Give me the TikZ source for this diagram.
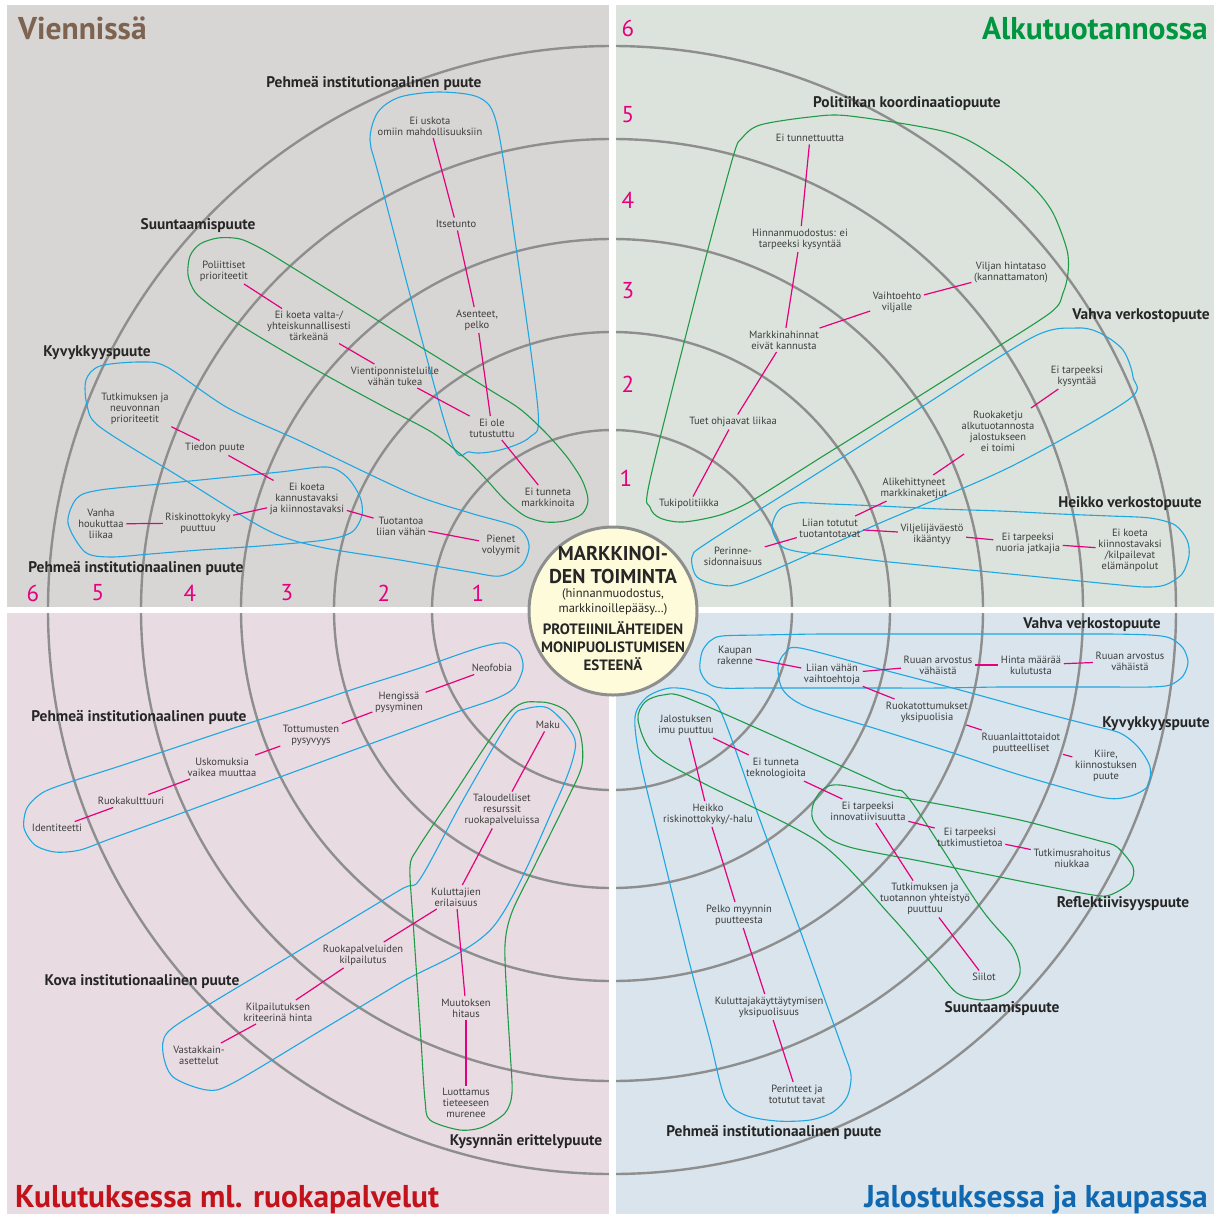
\documentclass[tikz,border=0pt]{standalone}
\usepackage{fontspec}
\setmainfont{PT Sans}
\usepackage{xcolor}
\usetikzlibrary{positioning}

\definecolor{pinkline}{HTML}{E5007E}
\definecolor{loopblue}{HTML}{1EA7E1}
\definecolor{loopgreen}{HTML}{1F9B48}
\definecolor{ringgray}{HTML}{8E8E8E}
\definecolor{quadTL}{HTML}{D8D6D5}
\definecolor{quadTR}{HTML}{DCE3DC}
\definecolor{quadBL}{HTML}{E8DCE2}
\definecolor{quadBR}{HTML}{D9E4EC}
\definecolor{centerfill}{HTML}{FEFBDA}
\definecolor{labeltext}{HTML}{3D3D3D}
\definecolor{headtext}{HTML}{262626}
\definecolor{ttlbrown}{HTML}{7D6350}
\definecolor{ttlgreen}{HTML}{009640}
\definecolor{ttlred}{HTML}{C4121A}
\definecolor{ttlblue}{HTML}{0F68B0}

\begin{document}
\begin{tikzpicture}[x=1pt,y=-1pt,
    lbl/.style={font=\fontsize{10.5}{11}\selectfont, text=labeltext, align=center, inner sep=2.5pt},
    hd/.style={font=\bfseries\fontsize{15.4}{17}\selectfont, text=headtext, inner sep=1pt},
    num/.style={font=\fontsize{23}{24}\selectfont, text=pinkline, inner sep=0pt},
    ttl/.style={font=\bfseries\fontsize{31.5}{33}\selectfont, inner sep=0pt},
    link/.style={draw=pinkline, line width=1.2pt},
    ring/.style={draw=ringgray, line width=2.4pt},
    bloop/.style={draw=loopblue, line width=1.1pt},
    gloop/.style={draw=loopgreen, line width=1.1pt}]

    \useasboundingbox (0,0) rectangle (1217,1216);

    % quadrants
    \fill[quadTL] (7,5) rectangle (609,607);
    \fill[quadTR] (616,5) rectangle (1214,607);
    \fill[quadBL] (7,613) rectangle (609,1214);
    \fill[quadBR] (616,613) rectangle (1214,1214);

    % rings
    \coordinate (o) at (612,610);
    \draw[ring] (o) circle[radius=180pt];
    \draw[ring] (o) circle[radius=278pt];
    \draw[ring] (o) circle[radius=371pt];
    \draw[ring] (o) circle[radius=471pt];
    \draw[ring] (o) circle[radius=564pt];
    \fill[white] (609,0) rectangle (616,1216);
    \fill[white] (0,607) rectangle (1217,613);

    % ring numbers
    \node[num] (n6a) at (33,593) {6};
    \node[num] (n5a) at (98,593) {5};
    \node[num] (n4a) at (190,593) {4};
    \node[num] (n3a) at (287,593) {3};
    \node[num] (n2a) at (384,593) {2};
    \node[num] (n1a) at (478,593) {1};
    \node[num] (n6b) at (628,28) {6};
    \node[num] (n5b) at (628,115) {5};
    \node[num] (n4b) at (628,200) {4};
    \node[num] (n3b) at (628,291) {3};
    \node[num] (n2b) at (628,384) {2};
    \node[num] (n1b) at (626,478) {1};

    % titles
    \node[ttl, text=ttlbrown, anchor=base west] (tViennissa) at (18,39) {Viennissä};
    \node[ttl, text=ttlgreen, anchor=base east] (tAlku) at (1208,39) {Alkutuotannossa};
    \node[ttl, text=ttlred, anchor=base west] (tKulutus) at (15,1207) {Kulutuksessa ml. ruokapalvelut};
    \node[ttl, text=ttlblue, anchor=base east] (tJalostus) at (1208,1207) {Jalostuksessa ja kaupassa};

    % loops, top left
    \draw[bloop] plot[smooth cycle, tension=0.5] coordinates {(370,140) (378,112) (400,97) (440,92) (480,98) (497,125) (515,240) (538,410) (530,437) (500,450) (470,452) (448,433) (380,180)};
    \draw[gloop] plot[smooth cycle, tension=0.5] coordinates {(188,275) (190,256) (200,244) (218,238) (240,239) (262,249) (290,266) (340,297) (390,328) (440,359) (490,390) (520,409) (545,432) (567,457) (582,480) (588,500) (582,514) (565,521) (545,522) (525,516) (505,500) (485,478) (465,458) (433,433) (390,410) (340,383) (290,355) (240,325) (210,305) (195,292)};
    \draw[bloop] plot[smooth cycle, tension=0.5] coordinates {(86,380) (100,366) (140,362) (167,367) (228,408) (300,441) (410,493) (470,513) (517,527) (529,545) (522,565) (500,576) (470,572) (400,560) (320,547) (267,530) (180,477) (100,427) (87,405)};
    \draw[bloop] plot[smooth cycle, tension=0.5] coordinates {(68,523) (77,498) (100,490) (160,484) (220,478) (280,472) (327,467) (347,477) (360,497) (362,515) (352,532) (325,540) (260,546) (200,550) (150,554) (110,557) (85,552)};

    % loops, top right
    \draw[gloop] plot[smooth cycle, tension=0.5] coordinates {(650,480) (700,280) (733,157) (742,138) (760,125) (810,117) (850,116) (950,133) (1000,160) (1033,187) (1053,213) (1067,250) (1068,273) (1063,293) (1050,313) (970,364) (897,410) (820,458) (753,500) (720,515) (683,522) (660,518) (650,507)};
    \draw[bloop] plot[smooth cycle, tension=0.5] coordinates {(692,557) (707,543) (810,478) (917,410) (1033,337) (1077,328) (1100,333) (1123,350) (1133,377) (1128,400) (1010,467) (880,523) (750,580) (720,585) (697,577)};
    \draw[bloop] plot[smooth cycle, tension=0.5] coordinates {(797,503) (830,504) (880,506) (940,509) (1000,511) (1060,514) (1110,516) (1150,518) (1175,525) (1187,540) (1189,556) (1182,574) (1165,585) (1145,587) (1110,584) (1060,579) (1000,573) (940,567) (880,561) (830,555) (800,552) (781,546) (772,528) (779,510)};

    % loops, bottom left
    \draw[bloop] plot[smooth cycle, tension=0.5] coordinates {(67,783) (120,766) (180,746) (240,726) (300,707) (360,687) (420,668) (460,654) (485,646) (505,643) (519,652) (523,668) (514,688) (495,699) (460,711) (400,733) (340,755) (280,777) (220,799) (160,821) (110,839) (80,850) (55,852) (35,845) (24,828) (27,808) (42,793)};
    \draw[bloop] plot[smooth cycle, tension=0.5] coordinates {(163,1053) (167,1033) (200,1010) (300,950) (400,890) (420,879) (463,800) (510,720) (525,709) (548,708) (570,730) (575,750) (557,800) (493,927) (400,983) (320,1031) (233,1083) (207,1090) (173,1077)};
    \draw[gloop] plot[smooth cycle, tension=0.5] coordinates {(410,867) (418,848) (450,800) (510,712) (540,702) (565,710) (580,733) (582,765) (567,800) (535,865) (512,912) (505,945) (507,1000) (510,1050) (512,1093) (505,1113) (483,1127) (460,1130) (430,1120) (425,1100) (421,1040) (417,980) (413,920)};

    % loops, bottom right
    \draw[bloop] plot[smooth cycle, tension=0.5] coordinates {(722,636) (760,635) (820,634) (880,634) (940,634) (1000,634) (1060,634) (1110,634) (1150,635) (1170,638) (1183,648) (1188,662) (1183,676) (1170,685) (1150,687) (1110,687) (1060,687) (1000,687) (940,688) (880,688) (820,688) (760,688) (722,688) (708,683) (700,670) (702,652) (710,641)};
    \draw[bloop] plot[smooth cycle, tension=0.5] coordinates {(778,667) (785,653) (800,648) (880,669) (960,690) (1040,712) (1090,725) (1120,733) (1138,747) (1150,767) (1147,787) (1127,797) (1100,797) (1020,775) (950,752) (880,730) (807,707) (783,690)};
    \draw[bloop] plot[smooth cycle, tension=0.5] coordinates {(635,717) (647,697) (670,688) (697,692) (720,710) (760,820) (800,930) (825,1000) (843,1050) (851,1075) (847,1097) (833,1112) (810,1120) (777,1121) (745,1115) (725,1098) (710,1040) (690,965) (660,843) (640,760)};
    \draw[gloop] plot[smooth cycle, tension=0.5] coordinates {(638,720) (645,702) (663,695) (687,698) (790,743) (887,787) (910,800) (980,907) (1013,947) (1020,973) (1007,993) (983,1000) (957,993) (933,965) (890,915) (820,843) (703,783) (653,753)};
    \draw[gloop] plot[smooth cycle, tension=0.5] coordinates {(813,805) (822,790) (840,785) (900,797) (960,808) (1020,820) (1070,833) (1100,841) (1117,847) (1133,867) (1130,883) (1110,895) (1093,895) (1040,885) (980,873) (920,861) (853,848) (827,837) (813,820)};

    % headings
    \node[hd] (tlPehmeaA) at (374,83) {Pehmeä institutionaalinen puute};
    \node[hd] (tlSuunt) at (198,226) {Suuntaamispuute};
    \node[hd] (tlKyvyk) at (97,353) {Kyvykkyyspuute};
    \node[hd] (tlPehmeaB) at (136,568) {Pehmeä institutionaalinen puute};
    \node[hd] (trPolit) at (907,104) {Politiikan koordinaatiopuute};
    \node[hd] (trVahva) at (1141,316) {Vahva verkostopuute};
    \node[hd] (trHeikko) at (1130,504) {Heikko verkostopuute};
    \node[hd] (blPehmea) at (139,717) {Pehmeä institutionaalinen puute};
    \node[hd] (blKova) at (142,982) {Kova institutionaalinen puute};
    \node[hd] (blKysynta) at (526,1142) {Kysynnän erittelypuute};
    \node[hd] (brVahva) at (1092,625) {Vahva verkostopuute};
    \node[hd] (brKyvyk) at (1156,724) {Kyvykkyyspuute};
    \node[hd] (brReflekt) at (1123,904) {Reflektiivisyyspuute};
    \node[hd] (brSuunt) at (1002,1009) {Suuntaamispuute};
    \node[hd] (brPehmea) at (774,1132) {Pehmeä institutionaalinen puute};

    % labels, top left
    \node[lbl] (uskota) at (430,126) {Ei uskota\\omiin mahdollisuuksiin};
    \node[lbl] (itsetunto) at (456,224) {Itsetunto};
    \node[lbl] (asenteet) at (477,320) {Asenteet,\\pelko};
    \node[lbl] (eiole) at (492,428) {Ei ole\\tutustuttu};
    \node[lbl] (eitunnetaM) at (548,497) {Ei tunneta\\markkinoita};
    \node[lbl] (poliittiset) at (224,271) {Poliittiset\\prioriteetit};
    \node[lbl] (valta) at (309,326) {Ei koeta valta-/\\yhteiskunnallisesti\\tärkeänä};
    \node[lbl] (vienti) at (395,376) {Vientiponnisteluille\\vähän tukea};
    \node[lbl] (tutkneuv) at (135,409) {Tutkimuksen ja\\neuvonnan\\prioriteetit};
    \node[lbl] (tiedon) at (215,448) {Tiedon puute};
    \node[lbl] (kannust) at (307,499) {Ei koeta\\kannustavaksi\\ja kiinnostavaksi};
    \node[lbl] (tuotantoa) at (401,526) {Tuotantoa\\liian vähän};
    \node[lbl] (pienet) at (501,545) {Pienet\\volyymit};
    \node[lbl] (vanha) at (101,524) {Vanha\\houkuttaa\\liikaa};
    \node[lbl] (riskiTL) at (198,523) {Riskinottokyky\\puuttuu};

    % labels, top right
    \node[lbl] (eitunnettuutta) at (810,138) {Ei tunnettuutta};
    \node[lbl] (hinnanm) at (800,239) {Hinnanmuodostus: ei\\tarpeeksi kysyntää};
    \node[lbl] (viljanh) at (1011,272) {Viljan hintataso\\(kannattamaton)};
    \node[lbl] (vaihtoehto) at (897,302) {Vaihtoehto\\viljalle};
    \node[lbl] (markkinah) at (784,340) {Markkinahinnat\\eivät kannusta};
    \node[lbl] (tuet) at (733,422) {Tuet ohjaavat liikaa};
    \node[lbl] (tukipol) at (689,504) {Tukipolitiikka};
    \node[lbl] (kysyntaa) at (1077,376) {Ei tarpeeksi\\kysyntää};
    \node[lbl] (ruokaketju) at (998,431) {Ruokaketju\\alkutuotannosta\\jalostukseen\\ei toimi};
    \node[lbl] (alikeh) at (914,488) {Alikehittyneet\\markkinaketjut};
    \node[lbl] (totutut) at (830,528) {Liian totutut\\tuotantotavat};
    \node[lbl] (perinne) at (733,556) {Perinne-\\sidonnaisuus};
    \node[lbl] (viljelija) at (932,534) {Viljelijäväestö\\ikääntyy};
    \node[lbl] (nuoria) at (1028,543) {Ei tarpeeksi\\nuoria jatkajia};
    \node[lbl] (kiinnost) at (1130,550) {Ei koeta\\kiinnostavaksi\\/kilpailevat\\elämänpolut};

    % labels, bottom left
    \node[lbl] (neofobia) at (492,668) {Neofobia};
    \node[lbl] (hengissa) at (399,702) {Hengissä\\pysyminen};
    \node[lbl] (tottumusten) at (311,735) {Tottumusten\\pysyvyys};
    \node[lbl] (uskomuksia) at (222,767) {Uskomuksia\\vaikea muuttaa};
    \node[lbl] (ruokakult) at (131,801) {Ruokakulttuuri};
    \node[lbl] (identiteetti) at (57,828) {Identiteetti};
    \node[lbl] (maku) at (548,725) {Maku};
    \node[lbl] (taloudell) at (502,810) {Taloudelliset\\resurssit\\ruokapalveluissa};
    \node[lbl] (kuluttajien) at (456,897) {Kuluttajien\\erilaisuus};
    \node[lbl] (ruokapalv) at (363,955) {Ruokapalveluiden\\kilpailutus};
    \node[lbl] (kilpailut) at (278,1012) {Kilpailutuksen\\kriteerinä hinta};
    \node[lbl] (vastakkain) at (199,1055) {Vastakkain-\\asettelut};
    \node[lbl] (muutoksen) at (466,1008) {Muutoksen\\hitaus};
    \node[lbl] (luottamus) at (466,1103) {Luottamus\\tieteeseen\\murenee};

    % labels, bottom right
    \node[lbl] (kaupan) at (735,655) {Kaupan\\rakenne};
    \node[lbl] (liianv) at (832,674) {Liian vähän\\vaihtoehtoja};
    \node[lbl] (arvostusA) at (938,665) {Ruuan arvostus\\vähäistä};
    \node[lbl] (hinta) at (1031,665) {Hinta määrää\\kulutusta};
    \node[lbl] (arvostusB) at (1130,661) {Ruuan arvostus\\vähäistä};
    \node[lbl] (ruokatott) at (927,712) {Ruokatottumukset\\yksipuolisia};
    \node[lbl] (ruuanl) at (1021,743) {Ruuanlaittotaidot\\puutteelliset};
    \node[lbl] (kiire) at (1106,766) {Kiire,\\kiinnostuksen\\puute};
    \node[lbl] (jalost) at (686,725) {Jalostuksen\\imu puuttuu};
    \node[lbl] (teknol) at (776,768) {Ei tunneta\\teknologioita};
    \node[lbl] (innov) at (868,811) {Ei tarpeeksi\\innovatiivisuutta};
    \node[lbl] (tutkimust) at (970,837) {Ei tarpeeksi\\tutkimustietoa};
    \node[lbl] (rahoitus) at (1072,858) {Tutkimusrahoitus\\niukkaa};
    \node[lbl] (yhteisty) at (925,899) {Tutkimuksen ja\\tuotannon yhteistyö\\puuttuu};
    \node[lbl] (siilot) at (984,977) {Siilot};
    \node[lbl] (heikkoR) at (708,814) {Heikko\\riskinottokyky/-halu};
    \node[lbl] (pelko) at (739,915) {Pelko myynnin\\puutteesta};
    \node[lbl] (kulkayt) at (769,1007) {Kuluttajakäyttäytymisen\\yksipuolisuus};
    \node[lbl] (perinteet) at (797,1094) {Perinteet ja\\totutut tavat};

    % connectors
    \draw[link] (uskota) -- (itsetunto);
    \draw[link] (itsetunto) -- (asenteet);
    \draw[link] (asenteet) -- (eiole);
    \draw[link] (eiole) -- (eitunnetaM);
    \draw[link] (poliittiset) -- (valta);
    \draw[link] (valta) -- (vienti);
    \draw[link] (vienti) -- (eiole);
    \draw[link] (tutkneuv) -- (tiedon);
    \draw[link] (tiedon) -- (kannust);
    \draw[link] (kannust) -- (tuotantoa);
    \draw[link] (tuotantoa) -- (pienet);
    \draw[link] (vanha) -- (riskiTL);
    \draw[link] (riskiTL) -- (kannust);

    \draw[link] (eitunnettuutta) -- (hinnanm);
    \draw[link] (hinnanm) -- (markkinah);
    \draw[link] (viljanh) -- (vaihtoehto);
    \draw[link] (vaihtoehto) -- (markkinah);
    \draw[link] (markkinah) -- (tuet);
    \draw[link] (tuet) -- (tukipol);
    \draw[link] (kysyntaa) -- (ruokaketju);
    \draw[link] (ruokaketju) -- (alikeh);
    \draw[link] (alikeh) -- (totutut);
    \draw[link] (totutut) -- (perinne);
    \draw[link] (totutut) -- (viljelija);
    \draw[link] (viljelija) -- (nuoria);
    \draw[link] (nuoria) -- (kiinnost);

    \draw[link] (neofobia) -- (hengissa);
    \draw[link] (hengissa) -- (tottumusten);
    \draw[link] (tottumusten) -- (uskomuksia);
    \draw[link] (uskomuksia) -- (ruokakult);
    \draw[link] (ruokakult) -- (identiteetti);
    \draw[link] (maku) -- (taloudell);
    \draw[link] (taloudell) -- (kuluttajien);
    \draw[link] (kuluttajien) -- (ruokapalv);
    \draw[link] (ruokapalv) -- (kilpailut);
    \draw[link] (kilpailut) -- (vastakkain);
    \draw[link] (kuluttajien) -- (muutoksen);
    \draw[link] (muutoksen) -- (luottamus);

    \draw[link] (kaupan) -- (liianv);
    \draw[link] (liianv) -- (arvostusA);
    \draw[link] (arvostusA) -- (hinta);
    \draw[link] (hinta) -- (arvostusB);
    \draw[link] (liianv) -- (ruokatott);
    \draw[link] (ruokatott) -- (ruuanl);
    \draw[link] (ruuanl) -- (kiire);
    \draw[link] (jalost) -- (teknol);
    \draw[link] (teknol) -- (innov);
    \draw[link] (innov) -- (tutkimust);
    \draw[link] (tutkimust) -- (rahoitus);
    \draw[link] (innov) -- (yhteisty);
    \draw[link] (yhteisty) -- (siilot);
    \draw[link] (jalost) -- (heikkoR);
    \draw[link] (heikkoR) -- (pelko);
    \draw[link] (pelko) -- (kulkayt);
    \draw[link] (kulkayt) -- (perinteet);

    % centre
    \node[circle, draw=ringgray, line width=3pt, fill=centerfill, minimum size=168pt, inner sep=0pt] (hub) at (613,611) {};
    \node[font=\bfseries\fontsize{20}{23.5}\selectfont, text=headtext, align=center, inner sep=0pt] (hubA) at (613,565) {MARKKINOI-\\DEN TOIMINTA};
    \node[font=\fontsize{12.5}{15.5}\selectfont, text=headtext, align=center, inner sep=0pt] (hubB) at (613,602) {(hinnanmuodostus,\\markkinoillepääsy\dots)};
    \node[font=\bfseries\fontsize{15}{18}\selectfont, text=headtext, align=center, inner sep=0pt] (hubC) at (613,646) {PROTEIINILÄHTEIDEN\\MONIPUOLISTUMISEN\\ESTEENÄ};
\end{tikzpicture}
\end{document}
